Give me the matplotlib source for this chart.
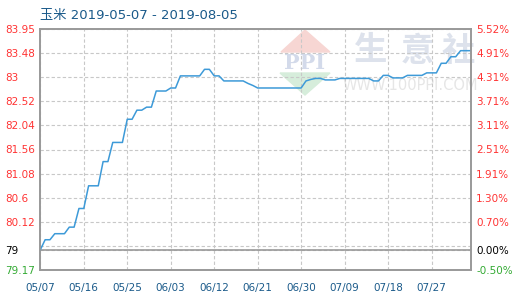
import pandas as pd
import matplotlib
matplotlib.use("Agg")
import matplotlib.pyplot as plt
import matplotlib.dates as mdates
from matplotlib.patches import Polygon

plt.rcParams['font.family'] = ['DejaVu Sans', 'Noto Sans CJK SC']

# daily corn price, 2019-05-07 .. 2019-08-04
dates = pd.date_range('2019-05-07', periods=90, freq='D')
prices = [
    79.57, 79.77, 79.77, 79.89, 79.89, 79.89, 80.02, 80.02, 80.39, 80.39,
    80.84, 80.84, 80.84, 81.32, 81.32, 81.70, 81.70, 81.70, 82.16, 82.16,
    82.34, 82.34, 82.40, 82.40, 82.72, 82.72, 82.72, 82.78, 82.78, 83.02,
    83.02, 83.02, 83.02, 83.02, 83.15, 83.15, 83.02, 83.02, 82.92, 82.92,
    82.92, 82.92, 82.92, 82.87, 82.83, 82.78, 82.78, 82.78, 82.78, 82.78,
    82.78, 82.78, 82.78, 82.78, 82.78, 82.92, 82.95, 82.97, 82.97, 82.94,
    82.94, 82.94, 82.97, 82.97, 82.97, 82.97, 82.97, 82.97, 82.97, 82.92,
    82.92, 83.03, 83.03, 82.98, 82.98, 82.98, 83.03, 83.03, 83.03, 83.03,
    83.08, 83.08, 83.08, 83.27, 83.27, 83.40, 83.40, 83.52, 83.52, 83.52,
]
base = 79.56
y_ticks = [83.95, 83.48, 83.0, 82.52, 82.04, 81.56, 81.08, 80.6, 80.12, 79.64, 79.56, 79.17]
left_labels = ['83.95', '83.48', '83', '82.52', '82.04', '81.56', '81.08', '80.6', '80.12', '', '79', '79.17']
right_labels = ['5.52%', '4.91%', '4.31%', '3.71%', '3.11%', '2.51%', '1.91%', '1.30%', '0.70%', '', '0.00%', '-0.50%']
x_ticks = dates[::9]
x_labels = [d.strftime('%m/%d') for d in x_ticks]

red = '#ff3333'
green = '#33aa33'
blue_txt = '#1a5a8a'
gray = '#999999'
label_colors = [red] * 9 + ['black', 'black', green]

fig = plt.figure(figsize=(5.2, 3.0), dpi=100)
ax = fig.add_axes([40.3 / 520, 30 / 300, 430.4 / 520, 241 / 300])


def px(x, y):
    return (x / 520, 1 - y / 300)


# watermark
ax.add_patch(Polygon([px(305, 30), px(281, 52), px(330, 52)], closed=True,
                     transform=fig.transFigure, color='#f7d6d3', zorder=1, clip_on=False))
ax.add_patch(Polygon([px(280, 73), px(330, 73), px(305, 95)], closed=True,
                     transform=fig.transFigure, color='#d6eddb', zorder=1, clip_on=False))
ax.text(*px(305, 63), 'PPI', transform=fig.transFigure, ha='center', va='center',
        fontsize=15, family='DejaVu Serif', weight='bold', color='#d3daea', zorder=1)
for ch, cx in zip(['生', '意', '社'], [371, 417, 458]):
    ax.text(*px(cx, 51), ch, transform=fig.transFigure, ha='center', va='center',
            fontsize=24, family=['Noto Sans CJK SC'], weight='bold', color='#dde2ec', zorder=1)
ax.text(*px(410, 86), 'WWW.100PPI.COM', transform=fig.transFigure, ha='center', va='center',
        fontsize=10.5, color='#e6e6e6', zorder=1)

ax.plot(dates, prices, color='#3d9ad8', lw=1.1, zorder=3)

ax.set_xlim(mdates.date2num(dates[0]), mdates.date2num(dates[0]) + 89.1)
ax.set_ylim(79.17, 83.95)
ax.set_xticks(x_ticks)
ax.set_xticklabels(x_labels)
ax.set_yticks(y_ticks)
ax.set_yticklabels(left_labels)
ax.grid(True, color='#c8c8c8', lw=0.8, linestyle=(0, (3, 2)), zorder=1.5)
ax.axhline(base, color=gray, lw=1.2, zorder=2)

ax.tick_params(axis='x', length=0, pad=9, labelsize=7.5, labelcolor=blue_txt)
ax.tick_params(axis='y', length=0, pad=25.5, labelsize=7.5)
for lab, c in zip(ax.get_yticklabels(), label_colors):
    lab.set_color(c)
    lab.set_ha('left')

ax2 = ax.twinx()
ax2.set_ylim(79.17, 83.95)
ax2.set_yticks(y_ticks)
ax2.set_yticklabels(right_labels)
ax2.tick_params(axis='y', length=0, pad=4, labelsize=7.5)
for lab, c in zip(ax2.get_yticklabels(), label_colors):
    lab.set_color(c)

for a in (ax, ax2):
    for s in a.spines.values():
        s.set_color(gray)
        s.set_linewidth(1.2)

fig.text(40 / 520, 1 - 15 / 300, '玉米 2019-05-07 - 2019-08-05', ha='left', va='center',
         fontsize=9.5, color=blue_txt)

fig.savefig('out.png', dpi=100)
